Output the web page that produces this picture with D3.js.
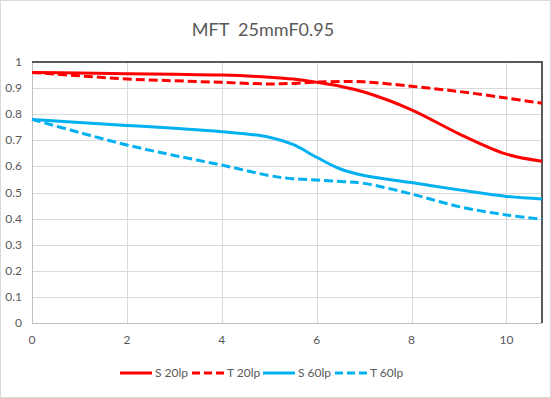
<!DOCTYPE html>
<html>
<head>
<meta charset="utf-8">
<script src="https://d3js.org/d3.v7.min.js"></script>
<style>
  body { margin: 0; background: #fff; }
  svg text { font-family: Lato, "Open Sans", sans-serif; fill: #595959; }
</style>
</head>
<body>
<svg id="chart" width="551" height="398"></svg>
<script>
const title = 'MFT\u00a0\u00a025mmF0.95';
const xValues = [0, 1, 2, 3, 4, 5, 5.5, 6, 6.5, 7, 8, 9, 10, 10.75];
const s20 = [0.96, 0.958, 0.955, 0.953, 0.95, 0.942, 0.935, 0.922, 0.907, 0.885, 0.817, 0.725, 0.647, 0.62];
const t20 = [0.96, 0.947, 0.935, 0.928, 0.922, 0.916, 0.918, 0.923, 0.925, 0.924, 0.907, 0.887, 0.862, 0.842];
const s60 = [0.78, 0.768, 0.757, 0.746, 0.733, 0.712, 0.684, 0.635, 0.59, 0.565, 0.538, 0.51, 0.485, 0.475];
const t60 = [0.78, 0.73, 0.682, 0.642, 0.605, 0.565, 0.553, 0.548, 0.542, 0.535, 0.494, 0.446, 0.414, 0.398];
const yTicks = [0, 0.1, 0.2, 0.3, 0.4, 0.5, 0.6, 0.7, 0.8, 0.9, 1];
const xTicks = [0, 2, 4, 6, 8, 10];
const seriesNames = ['S 20lp', 'T 20lp', 'S 60lp', 'T 60lp'];
const seriesData = [s20, t20, s60, t60];
const seriesColors = ['#ff0000', '#ff0000', '#00b0f0', '#00b0f0'];
const seriesDashed = [false, true, false, true];

const svg = d3.select('#chart');
const W = 551, H = 398;
const m = { left: 32, right: 9, top: 62, bottom: 75 };

svg.append('rect').attr('x', 0.5).attr('y', 0.5).attr('width', W - 1).attr('height', H - 1)
  .attr('fill', '#fff').attr('stroke', '#d9d9d9');

const x = d3.scaleLinear().domain([0, 10.75]).range([m.left, W - m.right]);
const y = d3.scaleLinear().domain([0, 1]).range([H - m.bottom, m.top]);

svg.append('text').attr('x', 263).attr('y', 36).attr('text-anchor', 'middle')
  .style('font-size', '18px').text(title);

// gridlines
svg.append('g').selectAll('line').data(yTicks).join('line')
  .attr('x1', x(0)).attr('x2', x(10.75))
  .attr('y1', d => Math.round(y(d)) + 0.5).attr('y2', d => Math.round(y(d)) + 0.5)
  .attr('stroke', '#d9d9d9');
svg.append('g').selectAll('line').data(xTicks).join('line')
  .attr('x1', d => Math.round(x(d)) + 0.5).attr('x2', d => Math.round(x(d)) + 0.5)
  .attr('y1', y(0)).attr('y2', y(1))
  .attr('stroke', '#d9d9d9');

// axis lines
svg.append('line').attr('x1', x(0)).attr('x2', x(10.75)).attr('y1', Math.round(y(0)) + 0.5).attr('y2', Math.round(y(0)) + 0.5)
  .attr('stroke', '#bfbfbf');
svg.append('line').attr('x1', Math.round(x(0)) + 0.5).attr('x2', Math.round(x(0)) + 0.5).attr('y1', y(0)).attr('y2', y(1))
  .attr('stroke', '#bfbfbf');
// top and right border
svg.append('path')
  .attr('d', `M${x(0)},${y(1)}H${x(10.75)}V${y(0)}`)
  .attr('fill', 'none').attr('stroke', '#595959').attr('stroke-width', 2);

// tick labels
svg.append('g').selectAll('text').data(yTicks).join('text')
  .attr('x', 22).attr('y', d => y(d) + 4).attr('text-anchor', 'end')
  .style('font-size', '12px').text(d => d);
svg.append('g').selectAll('text').data(xTicks).join('text')
  .attr('x', d => x(d)).attr('y', y(0) + 21).attr('text-anchor', 'middle')
  .style('font-size', '12px').text(d => d);

// series
const line = d3.line().x((d, i) => x(xValues[i])).y(d => y(d)).curve(d3.curveCatmullRom.alpha(0.5));
seriesData.forEach((s, k) => {
  svg.append('path').datum(s)
    .attr('d', line)
    .attr('fill', 'none')
    .attr('stroke', seriesColors[k])
    .attr('stroke-width', 3)
    .attr('stroke-dasharray', seriesDashed[k] ? '9,4' : null);
});

// legend
const legendX = [120, 192, 263, 335];
const ly = 373;
seriesNames.forEach((name, k) => {
  const g = svg.append('g').attr('transform', `translate(${legendX[k]},${ly})`);
  g.append('line').attr('x1', 0).attr('x2', 32).attr('y1', 0).attr('y2', 0)
    .attr('stroke', seriesColors[k]).attr('stroke-width', 3)
    .attr('stroke-dasharray', seriesDashed[k] ? '8,4' : null);
  g.append('text').attr('x', 35).attr('y', 4).style('font-size', '12px').text(name);
});
</script>
</body>
</html>
